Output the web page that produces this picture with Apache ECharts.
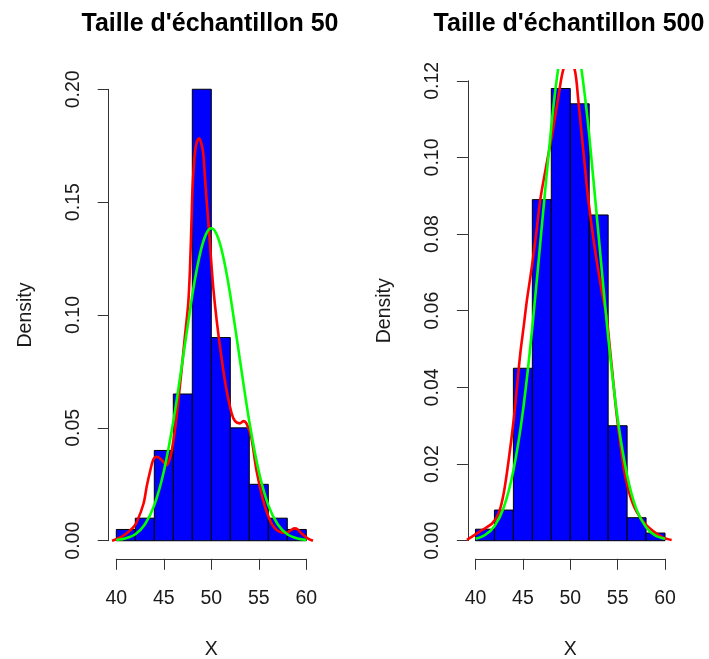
<!DOCTYPE html>
<html>
<head>
<meta charset="utf-8">
<script src="https://cdn.jsdelivr.net/npm/echarts@6/dist/echarts.min.js"></script>
<style>
html,body{margin:0;padding:0;background:#fff;}
#c{width:709px;height:659px;}
</style>
</head>
<body>
<div id="c"></div>
<script>
// ---- Data ----
const titles = ["Taille d'échantillon 50", "Taille d'échantillon 500"];
const xName = "X";
const yName = "Density";
const xTickLabels = ["40", "45", "50", "55", "60"];
const yTickLabels50 = ["0.00", "0.05", "0.10", "0.15", "0.20"];
const yTickLabels500 = ["0.00", "0.02", "0.04", "0.06", "0.08", "0.10", "0.12"];

const breaks = [40, 42, 44, 46, 48, 50, 52, 54, 56, 58, 60];
const hist50 = [0.005, 0.010, 0.040, 0.065, 0.200, 0.090, 0.050, 0.025, 0.010, 0.005];
const hist500 = [0.003, 0.008, 0.045, 0.089, 0.118, 0.114, 0.085, 0.030, 0.006, 0.002];

// kernel density estimate (red)
const kdeX50 = [39.55, 40.3, 41.1, 41.8, 42.17, 42.87, 43.2, 43.57, 43.9, 44.27, 44.8, 45.3, 45.6, 45.84, 46.2, 46.5, 46.87, 47.22, 47.57, 47.75, 47.92, 48.03, 48.27, 48.5, 48.73, 48.95, 49.15, 49.4, 49.67, 49.93, 50.2, 50.56, 51.01, 51.54, 52.14, 52.5, 53.0, 53.4, 53.7, 54.2, 54.76, 55.45, 56.15, 56.7, 57.2, 57.9, 58.4, 58.78, 59.1, 59.48, 60.1, 60.7];
const kdeY50 = [0.0, 0.0012, 0.0033, 0.006, 0.0084, 0.0165, 0.024, 0.031, 0.036, 0.0372, 0.0357, 0.0335, 0.036, 0.040, 0.050, 0.0609, 0.0756, 0.0904, 0.105, 0.120, 0.142, 0.1568, 0.1716, 0.177, 0.1783, 0.176, 0.1716, 0.1568, 0.142, 0.1273, 0.1125, 0.0978, 0.083, 0.0682, 0.0564, 0.053, 0.052, 0.053, 0.052, 0.046, 0.031, 0.018, 0.0092, 0.0055, 0.004, 0.0035, 0.0048, 0.0055, 0.005, 0.0033, 0.0012, 0.0];
const kdeX500 = [39.1, 39.6, 40.7, 41.75, 42.45, 42.98, 43.5, 44.03, 44.38, 44.73, 45.08, 45.43, 45.95, 46.4, 46.86, 47.67, 48.19, 48.72, 49.25, 49.85, 50.48, 50.83, 51.18, 51.53, 51.88, 52.59, 53.3, 53.83, 54.17, 54.52, 54.87, 55.3, 55.83, 56.63, 57.69, 58.74, 59.8, 60.7];
const kdeY500 = [0.0002, 0.001, 0.0028, 0.0045, 0.0072, 0.0124, 0.021, 0.0315, 0.0402, 0.0489, 0.0558, 0.0628, 0.0715, 0.080, 0.0894, 0.1005, 0.1075, 0.1154, 0.1228, 0.1255, 0.1228, 0.1154, 0.1067, 0.098, 0.0894, 0.0763, 0.0655, 0.0585, 0.0506, 0.042, 0.0335, 0.025, 0.0165, 0.0095, 0.005, 0.0025, 0.0008, 0.0002];

// normal density (green)
const normX50 = [40, 41, 42, 43, 44, 45, 46, 47, 48, 48.5, 49, 49.5, 50, 50.5, 51, 51.5, 52, 53, 54, 55, 56, 57, 58, 59, 60];
const normY50 = [0.0003, 0.0011, 0.0029, 0.0072, 0.0158, 0.0307, 0.0528, 0.0805, 0.1088, 0.1208, 0.1303, 0.1363, 0.1384, 0.1363, 0.1303, 0.1208, 0.1088, 0.0805, 0.0528, 0.0307, 0.0158, 0.0072, 0.0029, 0.0011, 0.0003];
const normX500 = [40, 41, 42, 43, 44, 45, 46, 47, 48, 48.5, 49, 49.5, 50, 50.5, 51, 51.5, 52, 53, 54, 55, 56, 57, 58, 59, 60];
const normY500 = [0.0005, 0.0015, 0.0038, 0.0088, 0.0183, 0.0337, 0.0557, 0.0821, 0.108, 0.119, 0.1273, 0.1322, 0.134, 0.1325, 0.126, 0.117, 0.1058, 0.0794, 0.0532, 0.0319, 0.0171, 0.0081, 0.0035, 0.0013, 0.0005];

// ---- Build chart ----
const FONT = "'Liberation Sans', Arial, sans-serif";
const zip = (xs, ys) => xs.map((x, i) => [x, ys[i]]);
const histRows = (h) => h.map((v, i) => [breaks[i], breaks[i + 1], v]);

const panels = [
  { plot: { left: 108.7, top: 71.2, width: 205.2, height: 487.6 },
    axis: { left: 116.3, top: 89.3, width: 190, height: 451.4 },
    yMin: -0.008, yMax: 0.208, yTop: 0.2, yInt: 0.05, yLabels: yTickLabels50,
    hist: hist50, kx: kdeX50, ky: kdeY50, nx: normX50, ny: normY50, title: titles[0], tx: 205 },
  { plot: { left: 467.9, top: 70.4, width: 204.7, height: 488.4 },
    axis: { left: 475.5, top: 80.8, width: 189.5, height: 459.9 },
    yMin: -0.00472, yMax: 0.12272, yTop: 0.12, yInt: 0.02, yLabels: yTickLabels500,
    hist: hist500, kx: kdeX500, ky: kdeY500, nx: normX500, ny: normY500, title: titles[1], tx: 564 }
];

const grid = [], xAxis = [], yAxis = [], series = [], title = [];
const axisColor = '#333';
const textColor = '#1a1a1a';

panels.forEach((p, k) => {
  const gP = grid.length;
  grid.push(Object.assign({ containLabel: false, outerBoundsMode: 'none' }, p.plot));
  xAxis.push({ type: 'value', gridIndex: gP, min: 39.2, max: 60.8, show: false });
  yAxis.push({ type: 'value', gridIndex: gP, min: p.yMin, max: p.yMax, show: false });
  const gA = grid.length;
  grid.push(Object.assign({ containLabel: false, outerBoundsMode: 'none' }, p.axis));
  xAxis.push({
    type: 'value', gridIndex: gA, min: 40, max: 60, interval: 5, position: 'bottom',
    offset: 18.1,
    axisLine: { show: true, onZero: false, lineStyle: { color: axisColor, width: 1 } },
    axisTick: { show: true, length: 11, lineStyle: { color: axisColor, width: 1 } },
    splitLine: { show: false },
    axisLabel: { show: true, margin: 30, color: textColor, fontSize: 19.5, fontFamily: FONT,
      showMinLabel: true, showMaxLabel: true,
      formatter: (v) => xTickLabels[Math.round((v - 40) / 5)] },
    name: xName, nameLocation: 'middle', nameGap: 81,
    nameTextStyle: { color: textColor, fontSize: 19.5, fontFamily: FONT }
  });
  yAxis.push({
    type: 'value', gridIndex: gA, min: 0, max: p.yTop, interval: p.yInt, position: 'left',
    offset: 7.6,
    axisLine: { show: true, onZero: false, lineStyle: { color: axisColor, width: 1 } },
    axisTick: { show: true, length: 11, lineStyle: { color: axisColor, width: 1 } },
    splitLine: { show: false },
    axisLabel: { show: true, rotate: 90, margin: 25, color: textColor, fontSize: 19.5, fontFamily: FONT,
      showMinLabel: true, showMaxLabel: true,
      formatter: (v) => p.yLabels[Math.round(v / p.yInt)] },
    name: yName, nameLocation: 'middle', nameGap: 73, nameRotate: 90,
    nameTextStyle: { color: textColor, fontSize: 19.5, fontFamily: FONT }
  });
  series.push({ type: 'line', xAxisIndex: gA, yAxisIndex: gA, data: [], silent: true });

  series.push({
    type: 'custom', xAxisIndex: gP, yAxisIndex: gP, data: histRows(p.hist),
    encode: { x: [0, 1], y: 2 },
    renderItem: (params, api) => {
      const a = api.coord([api.value(0), 0]);
      const b = api.coord([api.value(1), api.value(2)]);
      return { type: 'rect',
        shape: { x: a[0], y: b[1], width: b[0] - a[0], height: a[1] - b[1] },
        style: { fill: '#0000FF', stroke: '#000000', lineWidth: 1 } };
    },
    silent: true, z: 2
  });
  series.push({
    type: 'line', xAxisIndex: gP, yAxisIndex: gP, data: zip(p.kx, p.ky),
    showSymbol: false, symbol: 'none', smooth: 0.3, clip: true,
    lineStyle: { color: '#FF0000', width: 2.6 }, silent: true, z: 3
  });
  series.push({
    type: 'line', xAxisIndex: gP, yAxisIndex: gP, data: zip(p.nx, p.ny),
    showSymbol: false, symbol: 'none', smooth: 0.3, clip: true,
    lineStyle: { color: '#00FF00', width: 2.6 }, silent: true, z: 4
  });
  title.push({
    text: p.title, left: p.tx, top: 7, textAlign: 'center',
    textStyle: { color: '#000', fontSize: 25, fontWeight: 'bold', fontFamily: FONT }
  });
});

const chart = echarts.init(document.getElementById('c'), null, { renderer: 'canvas' });
chart.setOption({
  animation: false,
  backgroundColor: '#ffffff',
  title, grid, xAxis, yAxis, series
});
</script>
</body>
</html>
